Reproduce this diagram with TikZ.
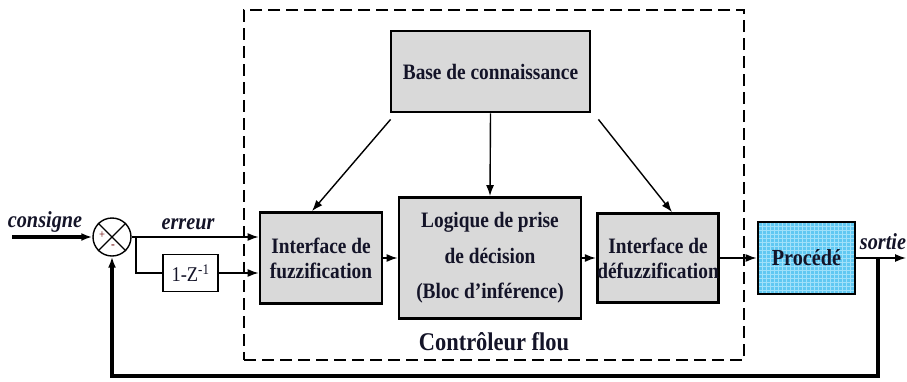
\documentclass[tikz,border=0pt]{standalone}
\usepackage{fontspec}
\setmainfont{Liberation Serif}[FakeStretch=0.88]
\usetikzlibrary{arrows.meta,calc}
\definecolor{boxgray}{RGB}{217,217,217}
\definecolor{procblue}{RGB}{96,200,242}
\definecolor{gridblue}{RGB}{160,225,250}
\definecolor{txt}{RGB}{20,20,40}
\begin{document}
\begin{tikzpicture}[x=1pt,y=-1pt,
  blk/.style={draw, line width=2.8pt, fill=boxgray, text=txt,
    font=\fontsize{22}{25}\selectfont\bfseries, align=center, inner sep=0pt},
  sig/.style={line width=1.4pt, -{Latex[length=11pt,width=8pt]}},
  heavy/.style={line width=3.2pt},
  lbl/.style={font=\fontsize{23}{24}\selectfont\bfseries\itshape, text=txt, inner sep=0pt}
]
\useasboundingbox (0,0) rectangle (907,381);

% dashed controller frame
\node[draw, line width=2.6pt, dash pattern=on 12pt off 6pt, minimum width=500pt,
      minimum height=350pt, inner sep=0pt] (ctrl) at (494,185) {};
\node[font=\fontsize{25.5}{26}\selectfont\bfseries, text=txt, inner sep=0pt] (cf) at (494,342) {Contrôleur flou};

% blocks
\node[blk, minimum width=199pt, minimum height=81pt] (base) at (490.5,71.5) {Base de connaissance};
\node[blk, minimum width=122pt, minimum height=91pt] (fuzz) at (321,258) {Interface de\\fuzzification};
\node[blk, font=\fontsize{22}{35.5}\selectfont\bfseries, minimum width=182pt, minimum height=121pt] (logic) at (490,258) {Logique de prise\\de décision\\(Bloc d’inférence)};
\node[blk, minimum width=112pt, minimum height=89pt] (defuzz) at (658,258) {Interface de\\défuzzification};
\node[blk, fill=procblue, minimum width=97pt, minimum height=72pt,
      path picture={\draw[gridblue, line width=0.5pt] (path picture bounding box.south west) grid[step=4pt] (path picture bounding box.north east);}] (proc) at (806.5,258) {};
\node[font=\fontsize{23}{24}\selectfont\bfseries, text=txt, inner sep=0pt] (proct) at (proc.center) {Procédé};

% summing junction
\node[circle, draw, line width=1.4pt, minimum size=38pt, inner sep=0pt] (sum) at (112,237) {};
\draw[line width=1.4pt] (sum.north west) -- (sum.south east) (sum.north east) -- (sum.south west);
\node[font=\fontsize{12}{12}\selectfont, text=black!60!red, inner sep=0pt] (plus) at ($(sum.center)+(-10,-2)$) {+};
\node[font=\fontsize{13}{12}\selectfont, text=black!60!red, inner sep=0pt] (minus) at ($(sum.center)+(1,10)$) {-};

% input
\coordinate (cin) at (12,237);
\draw[sig, heavy] (cin) -- (sum.west);
\node[lbl] (lc) at (45,222) {consigne};

% error path
\draw[sig] (sum.east) -- (fuzz.west |- sum.east);
\node[lbl] (le) at (188,224) {erreur};
\coordinate (br) at (136,237);
\node[draw, line width=1.4pt, minimum width=55pt, minimum height=37pt, inner sep=0pt,
      font=\fontsize{21}{22}\selectfont, text=txt] (dz) at (190.5,273) {1-Z\textsuperscript{-1}};
\draw[line width=1.4pt] (br) |- (dz.west);
\draw[sig] (dz.east) -- (fuzz.west |- dz.east);

% knowledge base arrows
\coordinate (bl) at ($(base.south west)+(1,6)$);
\coordinate (brr) at ($(base.south east)+(7,6)$);
\draw[sig] (bl) -- ($(fuzz.north)+(-9,0)$);
\draw[sig] (base.south) -- (logic.north);
\draw[sig] (brr) -- ($(defuzz.north)+(14,0)$);

% forward chain
\draw[sig] (fuzz.east) -- (logic.west);
\draw[sig] (logic.east) -- (defuzz.west);
\draw[sig] (defuzz.east) -- (proc.west);

% output and feedback
\coordinate (out) at (906,258);
\coordinate (tap) at (878,258);
\coordinate (fb) at (878,376);
\draw[sig] (proc.east) -- (out);
\node[lbl] (ls) at (883,242) {sortie};
\draw[sig, heavy] (tap) -- (fb) -| (sum.south);
\end{tikzpicture}
\end{document}
